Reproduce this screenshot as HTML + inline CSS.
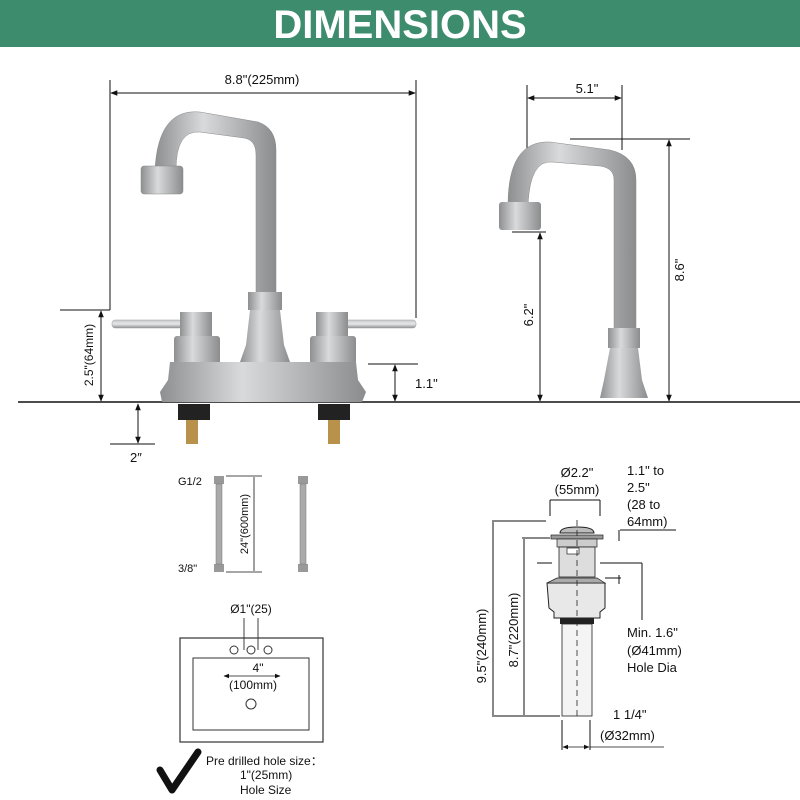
<!DOCTYPE html>
<html><head><meta charset="utf-8"><style>
html,body{margin:0;padding:0;background:#fff}
svg{display:block}
text{font-family:"Liberation Sans",Arial,sans-serif;fill:#111}
</style></head><body>
<svg width="800" height="800" viewBox="0 0 800 800" xmlns="http://www.w3.org/2000/svg">
<defs>
<linearGradient id="m" x1="0" x2="1"><stop offset="0" stop-color="#8d8f91"/><stop offset=".4" stop-color="#d9dadb"/><stop offset="1" stop-color="#8a8c8e"/></linearGradient>
<linearGradient id="mv" x1="0" y1="0" x2="0" y2="1"><stop offset="0" stop-color="#c9cacc"/><stop offset=".5" stop-color="#e6e7e8"/><stop offset="1" stop-color="#8e9092"/></linearGradient>
<marker id="a" viewBox="0 0 10 10" refX="9" refY="5" markerWidth="7" markerHeight="7" orient="auto-start-reverse"><path d="M0,1L10,5L0,9z" fill="#111"/></marker>
</defs>
<rect x="0" y="0" width="800" height="47" fill="#3d8c6d"/>
<text x="400" y="38" text-anchor="middle" font-size="40" font-weight="bold" style="fill:#fff">DIMENSIONS</text>

<!-- ground line -->
<line x1="18" y1="402" x2="800" y2="402" stroke="#111" stroke-width="1.5"/>

<!-- left faucet dims -->
<line x1="110" y1="80" x2="110" y2="310" stroke="#111"/>
<line x1="416" y1="80" x2="416" y2="318" stroke="#111"/>
<line x1="111" y1="93" x2="415" y2="93" stroke="#111" marker-start="url(#a)" marker-end="url(#a)"/>
<text x="262" y="84" text-anchor="middle" font-size="13">8.8"(225mm)</text>
<line x1="60" y1="310" x2="110" y2="310" stroke="#111"/>
<line x1="101" y1="311" x2="101" y2="401" stroke="#111" marker-start="url(#a)" marker-end="url(#a)"/>
<text transform="translate(93,355) rotate(-90)" text-anchor="middle" font-size="12">2.5"(64mm)</text>
<line x1="368" y1="364" x2="418" y2="364" stroke="#111"/>
<line x1="395" y1="365" x2="395" y2="401" stroke="#111" marker-start="url(#a)" marker-end="url(#a)"/>
<text x="415" y="388" font-size="13">1.1"</text>
<line x1="138" y1="404" x2="138" y2="443" stroke="#111" marker-start="url(#a)" marker-end="url(#a)"/>
<line x1="110" y1="444" x2="155" y2="444" stroke="#111"/>
<text x="130" y="462" font-size="13">2″</text>

<!-- left faucet -->
<path d="M155 170 Q158 108 200 112 L258 122 Q276 128 276 150 L276 300 L256 300 L256 155 Q256 140 244 138 L200 132 Q176 130 176 170 Z" fill="url(#m)" stroke="#888" stroke-width=".5"/>
<rect x="141" y="166" width="42" height="28" rx="3" fill="url(#m)" stroke="#888" stroke-width=".5"/>
<rect x="248" y="292" width="34" height="18" fill="url(#m)"/>
<path d="M250 310 L280 310 L284 345 L290 362 L240 362 L246 345 Z" fill="url(#m)"/>
<rect x="112" y="320" width="70" height="8" rx="3" fill="url(#mv)" stroke="#999" stroke-width=".5"/>
<rect x="340" y="320" width="76" height="8" rx="3" fill="url(#mv)" stroke="#999" stroke-width=".5"/>
<rect x="180" y="312" width="32" height="26" fill="url(#m)"/>
<rect x="174" y="336" width="46" height="28" rx="3" fill="url(#m)"/>
<rect x="316" y="312" width="32" height="26" fill="url(#m)"/>
<rect x="310" y="336" width="46" height="28" rx="3" fill="url(#m)"/>
<path d="M170 362 L356 362 L358 380 L366 392 L362 402 L162 402 L160 392 L168 380 Z" fill="url(#m)"/>
<rect x="178" y="404" width="32" height="16" fill="#222"/>
<rect x="318" y="404" width="32" height="16" fill="#222"/>
<rect x="186" y="420" width="12" height="24" fill="#b8924a"/>
<rect x="328" y="420" width="12" height="24" fill="#b8924a"/>

<!-- right faucet -->
<line x1="527" y1="85" x2="527" y2="190" stroke="#111"/>
<line x1="622" y1="85" x2="622" y2="150" stroke="#111"/>
<line x1="528" y1="98" x2="621" y2="98" stroke="#111" marker-start="url(#a)" marker-end="url(#a)"/>
<text x="587" y="93" text-anchor="middle" font-size="13">5.1"</text>
<line x1="570" y1="139" x2="690" y2="139" stroke="#111"/>
<line x1="669" y1="140" x2="669" y2="401" stroke="#111" marker-start="url(#a)" marker-end="url(#a)"/>
<text transform="translate(684,270) rotate(-90)" text-anchor="middle" font-size="13">8.6"</text>
<line x1="512" y1="232" x2="546" y2="232" stroke="#111"/>
<line x1="540" y1="233" x2="540" y2="401" stroke="#111" marker-start="url(#a)" marker-end="url(#a)"/>
<text transform="translate(533,315) rotate(-90)" text-anchor="middle" font-size="13">6.2"</text>
<path d="M508 205 Q508 140 550 142 L610 150 Q636 156 636 180 L636 330 L614 330 L614 180 Q614 168 600 166 L552 162 Q530 160 528 205 Z" fill="url(#m)" stroke="#888" stroke-width=".5"/>
<rect x="499" y="202" width="42" height="28" rx="3" fill="url(#m)"/>
<rect x="608" y="328" width="32" height="20" fill="url(#m)"/>
<path d="M610 348 L638 348 L642 380 L648 398 L600 398 L604 380 Z" fill="url(#m)"/>

<!-- hoses -->
<text x="178" y="485" font-size="11">G1/2</text>
<text x="178" y="572" font-size="11">3/8"</text>
<rect x="214" y="476" width="10" height="8" fill="#999"/><rect x="214" y="564" width="10" height="8" fill="#999"/>
<rect x="216" y="484" width="6" height="80" fill="#aaa" stroke="#777" stroke-width=".5"/>
<rect x="298" y="476" width="10" height="8" fill="#999"/><rect x="298" y="564" width="10" height="8" fill="#999"/>
<rect x="300" y="484" width="6" height="80" fill="#aaa" stroke="#777" stroke-width=".5"/>
<line x1="226" y1="476" x2="262" y2="476" stroke="#111" stroke-width=".8"/>
<line x1="226" y1="572" x2="262" y2="572" stroke="#111" stroke-width=".8"/>
<line x1="254" y1="477" x2="254" y2="571" stroke="#111" stroke-width=".8"/>
<text transform="translate(248,524) rotate(-90)" text-anchor="middle" font-size="11">24"(600mm)</text>

<!-- sink -->
<text x="251" y="613" text-anchor="middle" font-size="12">Ø1"(25)</text>
<line x1="244" y1="618" x2="244" y2="650" stroke="#111" stroke-width=".8"/>
<line x1="258" y1="618" x2="258" y2="650" stroke="#111" stroke-width=".8"/>
<rect x="180" y="638" width="143" height="104" fill="none" stroke="#333" stroke-width="1.2"/>
<rect x="193" y="658" width="116" height="72" fill="none" stroke="#333" stroke-width="1"/>
<circle cx="234" cy="650" r="4" fill="none" stroke="#333"/>
<circle cx="251" cy="650" r="4" fill="none" stroke="#333"/>
<circle cx="268" cy="650" r="4" fill="none" stroke="#333"/>
<line x1="224" y1="676" x2="280" y2="676" stroke="#111" stroke-width=".8" marker-start="url(#a)" marker-end="url(#a)"/>
<text x="258" y="672" text-anchor="middle" font-size="12">4"</text>
<text x="253" y="689" text-anchor="middle" font-size="12">(100mm)</text>
<circle cx="251" cy="704" r="5" fill="none" stroke="#333"/>
<path d="M160 770 L172 790 L198 752" fill="none" stroke="#111" stroke-width="7" stroke-linecap="round" stroke-linejoin="round"/>
<text x="206" y="765" font-size="12">Pre drilled hole size：</text>
<text x="240" y="779" font-size="12">1"(25mm)</text>
<text x="240" y="794" font-size="12">Hole Size</text>

<!-- drain -->
<text x="577" y="477" text-anchor="middle" font-size="13">Ø2.2"</text>
<text x="577" y="494" text-anchor="middle" font-size="13">(55mm)</text>
<line x1="550" y1="500" x2="600" y2="500" stroke="#111"/>
<line x1="550" y1="500" x2="550" y2="516" stroke="#111"/><line x1="600" y1="500" x2="600" y2="516" stroke="#111"/>
<text x="627" y="475" font-size="13">1.1" to</text>
<text x="627" y="492" font-size="13">2.5"</text>
<text x="627" y="509" font-size="13">(28 to</text>
<text x="627" y="526" font-size="13">64mm)</text>
<line x1="620" y1="530" x2="676" y2="530" stroke="#111"/>
<line x1="619" y1="530" x2="619" y2="541" stroke="#111"/>
<line x1="605" y1="578" x2="621" y2="578" stroke="#111"/>
<line x1="619" y1="575" x2="619" y2="584" stroke="#111"/>
<line x1="600" y1="563" x2="642" y2="563" stroke="#111"/>
<line x1="642" y1="563" x2="642" y2="620" stroke="#111"/>
<line x1="537" y1="563" x2="552" y2="563" stroke="#111"/>
<text x="627" y="637" font-size="13">Min. 1.6"</text>
<text x="627" y="655" font-size="13">(Ø41mm)</text>
<text x="627" y="672" font-size="13">Hole Dia</text>
<line x1="492" y1="521" x2="546" y2="521" stroke="#111"/>
<line x1="492" y1="716" x2="560" y2="716" stroke="#111"/>
<line x1="493" y1="522" x2="493" y2="715" stroke="#111"/>
<text transform="translate(486,646) rotate(-90)" text-anchor="middle" font-size="13">9.5"(240mm)</text>
<line x1="522" y1="538" x2="550" y2="538" stroke="#111"/>
<line x1="524" y1="539" x2="524" y2="715" stroke="#111"/>
<text transform="translate(518,630) rotate(-90)" text-anchor="middle" font-size="13">8.7"(220mm)</text>
<path d="M560 533 Q560 527 577 527 Q594 527 594 533 Z" fill="#bbb" stroke="#222"/>
<rect x="551" y="535" width="52" height="4" fill="#999" stroke="#222" stroke-width=".7"/>
<rect x="557" y="539" width="40" height="8" fill="#ccc" stroke="#222" stroke-width=".7"/>
<rect x="559" y="547" width="36" height="30" fill="#ddd" stroke="#222" stroke-width=".8"/>
<rect x="567" y="548" width="12" height="6" fill="#fff" stroke="#222" stroke-width=".7"/>
<path d="M547 583 L605 583 L605 608 L600 612 L600 618 L554 618 L554 612 L549 608 Z" fill="#e8e8e8" stroke="#222" stroke-width="1"/>
<path d="M557 578 L597 578 L605 583 L547 583 Z" fill="#aaa" stroke="#222" stroke-width=".7"/>
<rect x="560" y="618" width="34" height="6" fill="#222"/>
<rect x="562" y="624" width="30" height="92" fill="#f4f4f4" stroke="#222" stroke-width=".8"/>
<line x1="577" y1="520" x2="577" y2="720" stroke="#222" stroke-dasharray="6,4" stroke-width=".8"/>
<line x1="562" y1="720" x2="562" y2="750" stroke="#111"/>
<line x1="590" y1="720" x2="590" y2="750" stroke="#111"/>
<line x1="563" y1="747" x2="589" y2="747" stroke="#111" stroke-width=".8" marker-start="url(#a)" marker-end="url(#a)"/>
<line x1="590" y1="747" x2="664" y2="747" stroke="#111" stroke-width=".8"/>
<text x="613" y="719" font-size="13">1 1/4"</text>
<text x="600" y="740" font-size="13">(Ø32mm)</text>
</svg>
</body></html>
